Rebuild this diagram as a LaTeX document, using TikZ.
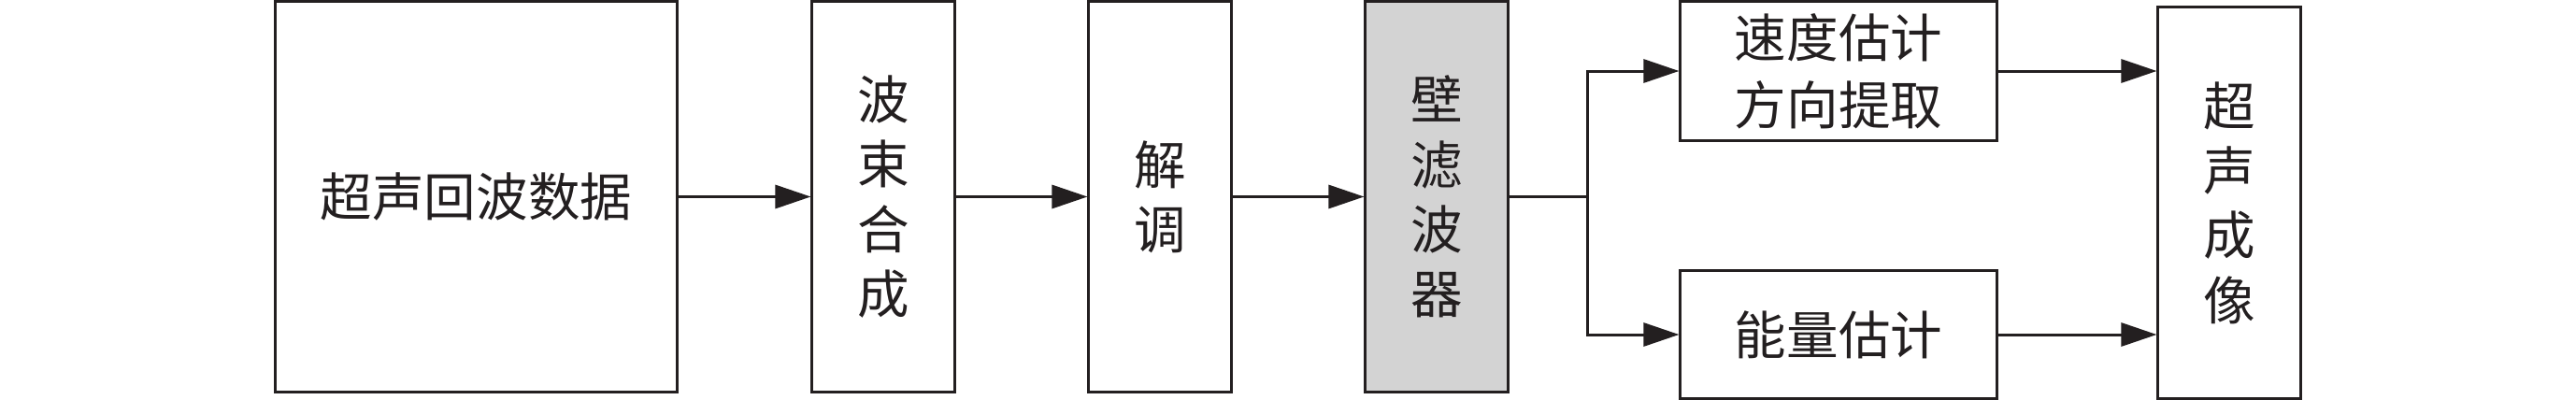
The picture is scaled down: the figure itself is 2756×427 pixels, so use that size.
\documentclass[tikz,border=0pt]{standalone}
\usepackage{fontspec}
\newfontfamily\cjk{Noto Sans CJK SC}
\usetikzlibrary{arrows.meta}
\definecolor{ink}{HTML}{231F20}
\definecolor{wallgray}{HTML}{D3D3D3}
\tikzset{
  blk/.style={draw=ink, line width=0.03cm, rectangle, inner sep=0pt, align=center, text=ink,
    font=\cjk\fontsize{15.8pt}{19.7pt}\selectfont},
  arr/.style={draw=ink, line width=0.03cm, -{Triangle[length=0.38cm,width=0.25cm]}},
  ln/.style={draw=ink, line width=0.03cm}
}
\begin{document}
\begin{tikzpicture}[x=0.01cm,y=-0.01cm]
\useasboundingbox (0,0) rectangle (2756,427);
\node[blk, minimum width=4.29cm, minimum height=4.17cm] (b1) at (509.5,210.5) {超声回波数据};
\node[blk, minimum width=1.52cm, minimum height=4.17cm] (b2) at (945,210.5) {波\\束\\合\\成};
\node[blk, minimum width=1.52cm, minimum height=4.17cm] (b3) at (1241,210.5) {解\\调};
\node[blk, fill=wallgray, minimum width=1.52cm, minimum height=4.17cm] (b4) at (1537,210.5) {壁\\滤\\波\\器};
\node[blk, minimum width=3.38cm, minimum height=1.48cm, font=\cjk\fontsize{15.8pt}{20.5pt}\selectfont] (b5) at (1967,76) {速度估计\\方向提取};
\node[blk, minimum width=3.38cm, minimum height=1.36cm] (b6) at (1967,358) {能量估计};
\node[blk, minimum width=1.52cm, minimum height=4.18cm] (b7) at (2385,217) {超\\声\\成\\像};
\coordinate (sp) at (1698,214);
\draw[arr] (b1.east) -- (b2.west);
\draw[arr] (b2.east) -- (b3.west);
\draw[arr] (b3.east) -- (b4.west);
\draw[ln] (b4.east) -- (b4.east -| sp);
\draw[arr] (sp) |- (b5.west);
\draw[arr] (sp) |- (b6.west);
\draw[arr] (b5.east) -- (b5.east -| b7.west);
\draw[arr] (b6.east) -- (b6.east -| b7.west);
\end{tikzpicture}
\end{document}
